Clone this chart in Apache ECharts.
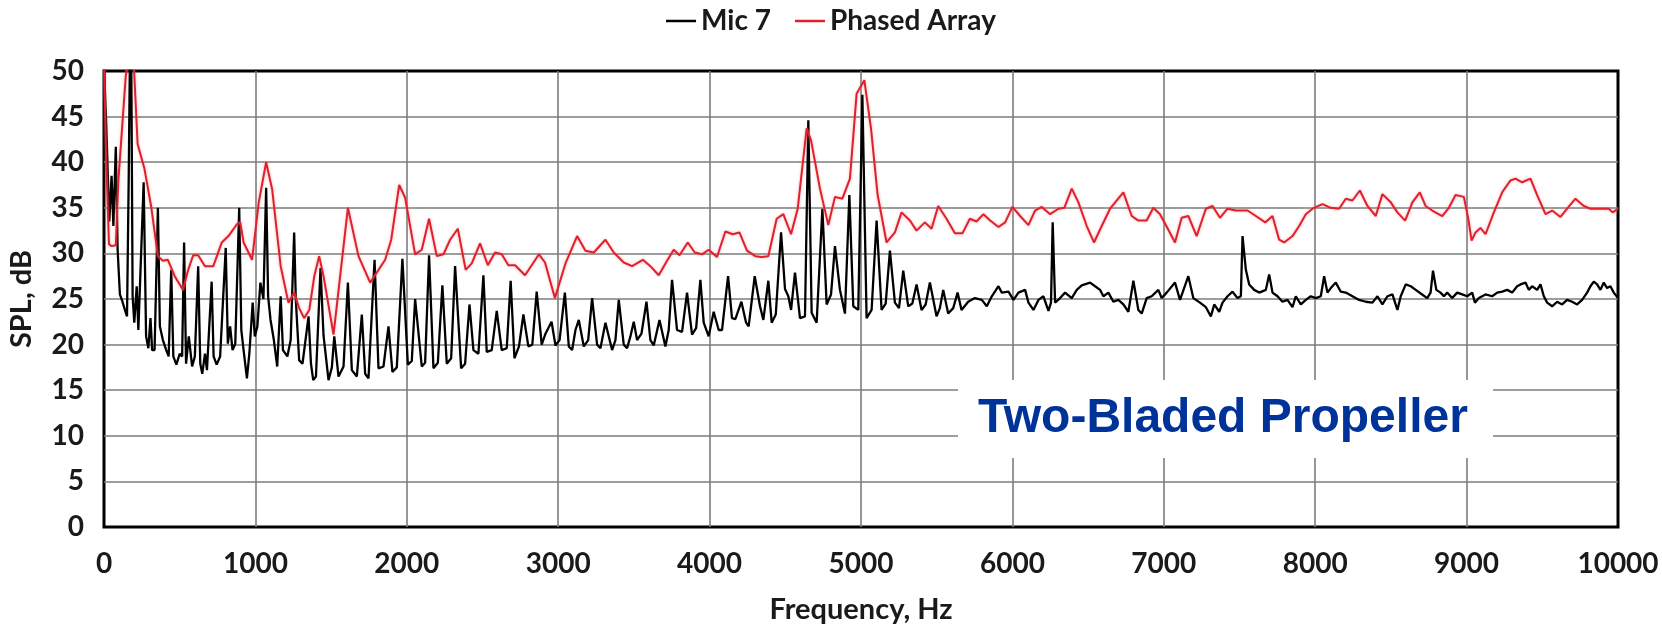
<!DOCTYPE html>
<html>
<head>
<meta charset="utf-8">
<script src="https://cdn.jsdelivr.net/npm/echarts@6/dist/echarts.min.js"></script>
<style>
html,body{margin:0;padding:0;background:#fff;}
#chart{width:1662px;height:625px;}
</style>
</head>
<body>
<div id="chart"></div>
<script>
// ---- data ----
const seriesNames = ['Mic 7', 'Phased Array'];
const xTicks = [0, 1000, 2000, 3000, 4000, 5000, 6000, 7000, 8000, 9000, 10000];
const yTicks = [0, 5, 10, 15, 20, 25, 30, 35, 40, 45, 50];

const micHz = [0,15,35,50,62,78,90,105,122,138,152,163,172,180,189,200,216,227,240,262,278,293,307,318,334,356,369,389,411,427,444,458,478,500,516,529,542,560,582,600,622,636,649,667,680,711,724,744,767,804,818,833,849,867,893,907,922,944,960,982,996,1013,1033,1053,1071,1084,1100,1122,1144,1167,1182,1211,1233,1256,1267,1289,1311,1351,1367,1382,1400,1430,1450,1483,1505,1521,1549,1582,1611,1637,1670,1703,1725,1747,1787,1813,1846,1879,1905,1934,1971,2007,2033,2055,2099,2121,2147,2176,2205,2235,2264,2293,2319,2359,2385,2414,2440,2473,2506,2528,2561,2594,2627,2660,2686,2711,2741,2770,2803,2829,2858,2891,2916,2956,2982,3009,3044,3070,3092,3114,3136,3169,3198,3224,3257,3279,3312,3356,3378,3400,3433,3455,3477,3499,3521,3550,3583,3609,3631,3669,3708,3730,3752,3785,3818,3851,3884,3911,3939,3961,3994,4027,4060,4082,4122,4148,4170,4210,4241,4258,4298,4333,4355,4388,4410,4437,4472,4498,4520,4538,4564,4597,4630,4652,4674,4707,4745,4773,4802,4828,4861,4894,4923,4949,4982,5009,5037,5070,5103,5136,5163,5191,5224,5251,5279,5312,5339,5367,5400,5427,5455,5499,5521,5543,5576,5609,5638,5664,5708,5752,5798,5831,5864,5908,5930,5974,6007,6040,6084,6106,6139,6172,6205,6238,6255,6266,6282,6315,6348,6392,6425,6458,6513,6546,6579,6601,6634,6667,6700,6733,6766,6799,6832,6854,6887,6920,6964,6986,7019,7074,7107,7162,7195,7239,7278,7311,7333,7366,7388,7421,7454,7487,7509,7520,7542,7564,7597,7630,7674,7696,7718,7751,7784,7817,7850,7872,7905,7938,7971,8004,8037,8059,8081,8103,8136,8169,8202,8246,8290,8334,8378,8411,8444,8477,8510,8543,8565,8598,8631,8664,8697,8740,8762,8778,8800,8828,8850,8872,8905,8938,8971,9004,9037,9055,9081,9125,9169,9202,9235,9268,9301,9334,9356,9389,9411,9433,9466,9488,9510,9532,9565,9598,9631,9664,9697,9730,9763,9796,9818,9840,9862,9884,9906,9928,9950,9972,10000];
const micDb = [50.5,44,33.5,38.5,33,41.7,30.4,25.5,24.7,23.8,23.1,38,53,52,25.3,22.4,26.4,21.6,21.8,37.8,20.9,19.6,22.9,19.4,19.4,35,22,20.5,19.4,18.7,28.2,18.7,17.8,19,18.7,31.2,17.9,20.9,17.6,18.7,28.6,17.9,16.8,19,17.2,26.9,18.7,17.8,18.7,30.6,20.1,22,19.4,20.1,35,21.6,19.4,16.3,19,24.6,20.9,22,26.8,25,37.2,25.3,22.7,20.5,17.6,25.3,19.4,18.7,20.5,32.3,24.9,18.3,17.9,23.1,17.9,16.1,16.5,28.4,21,16.1,17.5,20.9,16.5,17.6,26.8,17.2,16.5,23.3,16.8,16.3,29.3,17.4,17.6,22,17,17.5,29.4,17.8,18.2,25,17.6,18,29.8,17.4,18,26.5,17.9,18.5,28.6,17.4,17.9,24.4,19.4,19,27.6,19.2,19.4,23.7,19.4,19.6,27,18.5,19.8,23.3,19.8,20,25.8,20,21.2,22.5,19.9,20.5,25.7,19.8,19.4,21.6,22.7,19.8,20.5,25.1,20,19.6,22.4,19.4,20.5,24.9,20,19.6,20.9,22.5,20.5,21.2,24.7,20.5,19.9,22.7,19.8,21.6,27.1,21.6,21.4,25.7,21.1,21.8,27.1,22.4,20.9,23.6,21.6,21.6,27.5,22.9,22.8,24.7,22.4,22,27.5,24.2,22.7,27,22.4,23.3,32.3,26.1,25.3,23.8,27.9,22.9,23.1,44.6,23.5,22.4,34.9,24.4,25.5,30.8,26,23.4,36.4,24.2,23.8,47.4,22.9,23.8,33.6,23.8,24.5,30.3,24.6,24,28.1,24.2,24.5,26.6,23.8,24.4,26.8,23.1,24,26,23.4,24,25.7,23.8,24.7,25.1,24.9,24.2,25.3,26.4,25.7,25.8,24.9,25.7,26,24.6,23.8,24.9,25.3,23.7,24.6,33.4,24.6,25.1,25.7,25.1,26,26.5,26.8,26.4,26,25.3,25.7,24.7,24.9,24.4,23.6,27,23.8,23.4,25.1,25.3,26,25.1,25.7,26.8,24.9,27.5,25.1,24.6,24.1,23.1,24.4,23.6,24.6,25.3,25.8,25.1,25.3,31.9,28.2,26.6,26,25.7,26,27.7,25.7,25.3,24.7,24.9,24.1,25.3,24.4,24.9,25.3,25.1,25.3,27.5,25.7,26.2,26.8,25.8,25.7,25.3,24.9,24.7,24.6,25.3,24.4,25.3,25.5,23.8,25.3,26.6,26.4,26,25.6,25.1,25.7,28.1,26,25.7,25.3,25.7,25.1,25.7,25.5,25.3,25.7,24.6,25.1,25.5,25.3,25.7,25.8,26,25.7,26.4,26.6,26.8,26,26.4,26,26.6,25.3,24.6,24.2,24.7,24.4,24.9,24.7,24.4,24.9,25.7,26.4,26.9,26.6,26,26.8,26.2,26.4,25.7,25.1];

const arrayHz = [0,15,33,50,78,95,144,160,196,222,267,311,356,389,422,467,522,556,589,622,667,722,778,822,878,900,922,978,1022,1071,1111,1167,1218,1256,1289,1322,1356,1389,1421,1450,1516,1611,1681,1758,1802,1857,1897,1950,1989,2055,2099,2147,2198,2242,2286,2337,2389,2429,2484,2535,2583,2627,2671,2715,2781,2825,2873,2913,2978,3048,3125,3180,3235,3312,3367,3433,3488,3559,3609,3664,3719,3763,3801,3856,3902,3950,3994,4049,4104,4153,4197,4247,4302,4344,4388,4443,4487,4538,4582,4641,4670,4729,4784,4828,4877,4927,4971,5022,5066,5110,5169,5224,5268,5323,5367,5422,5466,5510,5565,5620,5670,5719,5763,5809,5853,5908,5952,6000,6051,6106,6150,6194,6249,6304,6343,6392,6436,6491,6539,6590,6645,6733,6788,6832,6887,6931,6975,7030,7074,7118,7162,7217,7278,7322,7371,7421,7476,7553,7608,7670,7718,7762,7795,7850,7894,7938,7982,8048,8103,8158,8202,8246,8295,8345,8400,8444,8499,8543,8594,8642,8691,8729,8773,8839,8883,8927,8982,9011,9033,9059,9092,9125,9180,9235,9290,9323,9367,9422,9466,9521,9565,9620,9664,9719,9774,9818,9884,9939,9965,10000];
const arrayDb = [51,40,31,30.8,30.9,38,49.5,51,51,42,39.3,35.2,29.7,29.2,29.3,27.5,26,28.2,29.8,29.8,28.6,28.6,31.2,31.9,33.2,33.4,31.2,29.3,35.6,40,37,28.6,24.6,25.7,24,22.9,23.8,27.5,29.7,27.5,21.1,35,29.7,26.8,27.9,29.3,31.5,37.5,36.1,29.9,30.4,33.8,29.7,29.9,31.5,32.7,28.2,28.9,31.1,28.7,30.1,29.9,28.7,28.7,27.6,28.7,29.9,29,25.1,28.9,31.9,30.3,30.1,31.5,30.1,29,28.6,29.3,28.6,27.6,29.2,30.4,29.8,31.2,30.1,29.9,30.4,29.6,32.4,32.1,32.3,30.3,29.7,29.6,29.7,33.8,34.3,32.1,34.9,43.7,42.4,37.1,33.1,36.2,36,38.2,47.5,49,43.7,36.4,31.2,32.3,34.5,33.6,32.5,33.4,32.7,35.2,33.8,32.2,32.2,33.8,33.5,34.3,33.6,32.9,33.4,35.1,34.1,33.1,34.7,35.1,34.3,34.9,35,37.1,35.6,33,31.2,33,34.9,36.7,34.1,33.6,33.6,35,34.3,32.6,31.2,33.9,34.1,31.9,34.9,35.2,33.9,34.9,34.7,34.7,34.1,33.4,34.1,31.5,31.2,31.9,33,34.3,34.9,35.4,35,34.9,36,35.8,36.9,35.2,34.1,36.5,35.6,34.5,33.6,35.6,36.7,35.2,34.7,34.1,35,36.4,36.2,33.8,31.4,32.3,32.8,32.1,34.5,36.7,38,38.2,37.8,38.2,36.4,34.3,34.7,34,34.9,36,35.2,34.9,34.9,34.9,34.5,34.9];

const annotationText = 'Two-Bladed Propeller';

// ---- chart ----
const FONT = 'Lato, "Open Sans", sans-serif';
const labelStyle = {fontFamily: FONT, fontWeight: 'bold', fontSize: 28, color: '#1a1a1a'};
const nameStyle = {fontFamily: FONT, fontWeight: 'bold', fontSize: 29, color: '#1a1a1a'};

const chart = echarts.init(document.getElementById('chart'), null, {renderer: 'canvas'});
chart.setOption({
  animation: false,
  backgroundColor: '#ffffff',
  grid: {left: 104, right: 44, top: 71, bottom: 98, show: true, borderColor: '#000', borderWidth: 3,
         backgroundColor: 'transparent', containLabel: false, outerBoundsMode: 'none'},
  legend: {
    data: seriesNames,
    top: 2, left: 'center',
    icon: 'rect', itemWidth: 30, itemHeight: 2.5, itemGap: 24,
    textStyle: {fontFamily: FONT, fontWeight: 'bold', fontSize: 28, color: '#1a1a1a'}
  },
  xAxis: {
    type: 'value', min: xTicks[0], max: xTicks[xTicks.length - 1], interval: xTicks[1] - xTicks[0],
    axisLine: {show: false}, axisTick: {show: false},
    splitLine: {show: true, showMinLine: false, showMaxLine: false, lineStyle: {color: '#7d7d7d', width: 1.6}},
    axisLabel: Object.assign({margin: 23, formatter: v => String(v)}, labelStyle),
    name: 'Frequency, Hz', nameLocation: 'middle', nameGap: 68,
    nameTextStyle: nameStyle
  },
  yAxis: {
    type: 'value', min: yTicks[0], max: yTicks[yTicks.length - 1], interval: yTicks[1] - yTicks[0],
    axisLine: {show: false}, axisTick: {show: false},
    splitLine: {show: true, showMinLine: false, showMaxLine: false, lineStyle: {color: '#7d7d7d', width: 1.6}},
    axisLabel: Object.assign({margin: 20, formatter: v => String(v)}, labelStyle),
    name: 'SPL, dB', nameLocation: 'middle', nameGap: 68, nameRotate: 90,
    nameTextStyle: nameStyle
  },
  series: [
    {
      name: seriesNames[0], type: 'line', showSymbol: false, clip: true,
      data: micHz.map((h, i) => [h, micDb[i]]),
      lineStyle: {color: '#000000', width: 2.3}, itemStyle: {color: '#000000'}
    },
    {
      name: seriesNames[1], type: 'line', showSymbol: false, clip: true,
      data: arrayHz.map((h, i) => [h, arrayDb[i]]),
      lineStyle: {color: '#e0202b', width: 2, shadowColor: 'rgba(235,110,120,0.55)', shadowBlur: 3},
      itemStyle: {color: '#e0202b'}
    }
  ],
  graphic: [
    {type: 'rect', z: 100, shape: {x: 958, y: 380, width: 535, height: 78}, style: {fill: '#ffffff'}},
    {type: 'text', z: 101, x: 978, y: 419,
     style: {text: annotationText, fill: '#003399', font: 'bold 48px "Liberation Sans", Arial, sans-serif', verticalAlign: 'middle', align: 'left'}}
  ]
});
</script>
</body>
</html>
